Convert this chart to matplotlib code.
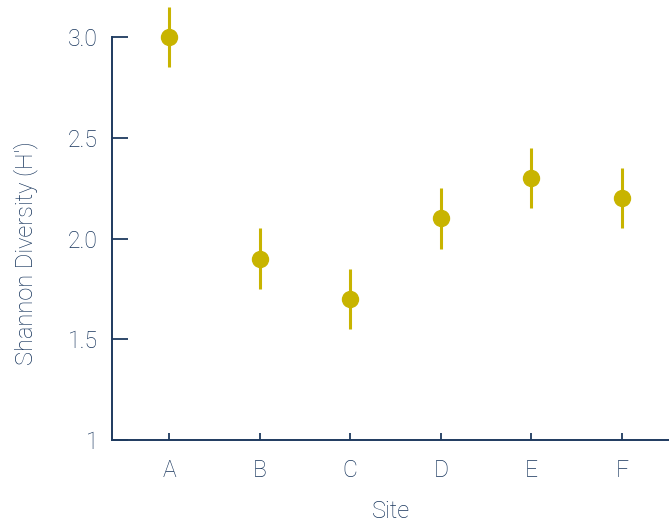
import matplotlib.pyplot as plt

sites = ['A', 'B', 'C', 'D', 'E', 'F']
diversity = [3.0, 1.9, 1.7, 2.1, 2.3, 2.2]
err = [0.15, 0.15, 0.15, 0.15, 0.15, 0.15]
yticks = [1, 1.5, 2.0, 2.5, 3.0]
ytick_labels = ['1', '1.5', '2.0', '2.5', '3.0']

point_color = '#C8B400'
text_color = '#16345C'
spine_color = '#1E3A5F'

plt.rcParams['font.family'] = ['Roboto', 'DejaVu Sans']
plt.rcParams['font.weight'] = 'light'
plt.rcParams['axes.labelweight'] = 'light'

fig = plt.figure(figsize=(6.69, 5.26), dpi=100)
ax = fig.add_axes([0.1674, 0.1635, 0.8326, 0.766])

x = list(range(len(sites)))
ax.errorbar(x, diversity, yerr=err, fmt='o', color=point_color, ecolor=point_color,
            markersize=11.5, elinewidth=2.2, capsize=0, clip_on=False, zorder=3)

ax.set_xlim(-0.63, 5.52)
ax.set_ylim(1, 3.0)
ax.set_xticks(x)
ax.set_xticklabels(sites)
ax.set_yticks(yticks)
ax.set_yticklabels(ytick_labels)

for side in ['top', 'right']:
    ax.spines[side].set_visible(False)
for side in ['left', 'bottom']:
    ax.spines[side].set_color(spine_color)
    ax.spines[side].set_linewidth(1.4)

ax.tick_params(axis='y', direction='in', length=11.5, width=1.3, color=spine_color,
               labelcolor=text_color, labelsize=16.5, pad=10)
ax.tick_params(axis='x', direction='in', length=5, width=1.3, color=spine_color,
               labelcolor=text_color, labelsize=16.5, pad=14)

ax.set_xlabel('Site', color=text_color, fontsize=17, labelpad=13)
ax.set_ylabel("Shannon Diversity (H')", color=text_color, fontsize=17)
ax.yaxis.set_label_coords(-0.133, 0.463)

fig.savefig('out.png', dpi=100)
